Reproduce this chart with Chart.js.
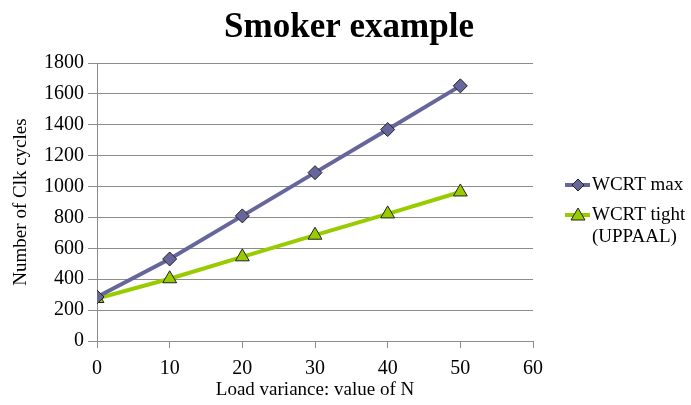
<!DOCTYPE html>
<html>
<head>
<meta charset="utf-8">
<script src="https://cdn.jsdelivr.net/npm/chart.js@4/dist/chart.umd.min.js"></script>
<style>
  html, body { margin: 0; padding: 0; background: #fff; }
  #wrap { width: 691px; height: 405px; position: relative; }
</style>
</head>
<body>
<div id="wrap"><canvas id="c"></canvas></div>
<script>
// datos
const nValues = [0, 10, 20, 30, 40, 50];
const wcrtMax = [285, 531, 810, 1090, 1369, 1652];
const wcrtTight = [275, 403, 545, 685, 823, 965];
const legendLabels = [['WCRT max'], ['WCRT tight', '(UPPAAL)']];
const chartTitle = 'Smoker example';

const serif = "'Liberation Serif', 'Times New Roman', serif";
const colMax = '#66669c';
const colTight = '#99cc00';
const gridColor = '#8c8c8c';

// título y leyenda dibujados a mano (la leyenda tiene texto en dos líneas)
const decor = {
  id: 'decor',
  afterDraw(chart) {
    const ctx = chart.ctx;
    ctx.save();
    ctx.fillStyle = '#000';
    ctx.font = 'bold 35px ' + serif;
    ctx.textAlign = 'center';
    ctx.textBaseline = 'alphabetic';
    ctx.fillText(chartTitle, 349, 37);

    ctx.textAlign = 'left';
    ctx.textBaseline = 'middle';
    ctx.font = '19px ' + serif;
    const rows = [185, 215];
    chart.data.datasets.forEach((ds, i) => {
      const x0 = 565, y = rows[i];
      ctx.strokeStyle = ds.borderColor;
      ctx.lineWidth = 4;
      ctx.beginPath();
      ctx.moveTo(x0, y);
      ctx.lineTo(x0 + 25, y);
      ctx.stroke();
      ctx.fillStyle = ds.pointBackgroundColor;
      ctx.strokeStyle = '#222';
      ctx.lineWidth = 1;
      ctx.beginPath();
      const cx = x0 + 13;
      if (ds.pointStyle === 'rectRot') {
        ctx.moveTo(cx, y - 6);
        ctx.lineTo(cx + 6, y);
        ctx.lineTo(cx, y + 6);
        ctx.lineTo(cx - 6, y);
      } else {
        ctx.moveTo(cx, y - 7);
        ctx.lineTo(cx + 7, y + 5);
        ctx.lineTo(cx - 7, y + 5);
      }
      ctx.closePath();
      ctx.fill();
      ctx.stroke();
      ctx.fillStyle = '#000';
      legendLabels[i].forEach((line, j) => {
        ctx.fillText(line, x0 + 27, y + j * 22);
      });
    });
    ctx.restore();
  }
};

new Chart(document.getElementById('c'), {
  type: 'line',
  data: {
    labels: nValues,
    datasets: [{
      label: 'WCRT max',
      data: nValues.map((n, i) => ({ x: n, y: wcrtMax[i] })),
      borderColor: colMax,
      backgroundColor: colMax,
      pointBackgroundColor: colMax,
      pointBorderColor: '#222',
      pointBorderWidth: 1,
      pointStyle: 'rectRot',
      pointRadius: 7,
      borderWidth: 4,
      tension: 0
    }, {
      label: 'WCRT tight (UPPAAL)',
      data: nValues.map((n, i) => ({ x: n, y: wcrtTight[i] })),
      borderColor: colTight,
      backgroundColor: colTight,
      pointBackgroundColor: colTight,
      pointBorderColor: '#222',
      pointBorderWidth: 1,
      pointStyle: 'triangle',
      pointRadius: 8,
      borderWidth: 4,
      tension: 0
    }]
  },
  options: {
    responsive: true,
    maintainAspectRatio: false,
    animation: false,
    layout: { padding: { left: 6, right: 158, top: 63, bottom: 0 } },
    plugins: {
      legend: { display: false },
      tooltip: { enabled: false },
      title: { display: false }
    },
    scales: {
      x: {
        type: 'linear',
        min: 0, max: 60,
        afterFit(s) { s.height = 64; },
        ticks: { stepSize: 10, color: '#000', font: { family: serif, size: 20 }, padding: 9 },
        grid: { drawOnChartArea: false, color: gridColor, tickLength: 7 },
        border: { color: gridColor },
        title: { display: true, text: 'Load variance: value of N', color: '#000', font: { family: serif, size: 19 }, padding: { top: 1 } }
      },
      y: {
        min: 0, max: 1800,
        afterFit(s) { s.width = 91; },
        ticks: { stepSize: 200, color: '#000', font: { family: serif, size: 20 }, padding: 4,
          callback: v => String(v) },
        grid: { color: gridColor, tickLength: 9 },
        border: { color: gridColor },
        title: { display: true, text: 'Number of Clk cycles', color: '#000', font: { family: serif, size: 19 }, padding: { bottom: 2 } }
      }
    }
  },
  plugins: [decor]
});
</script>
</body>
</html>
